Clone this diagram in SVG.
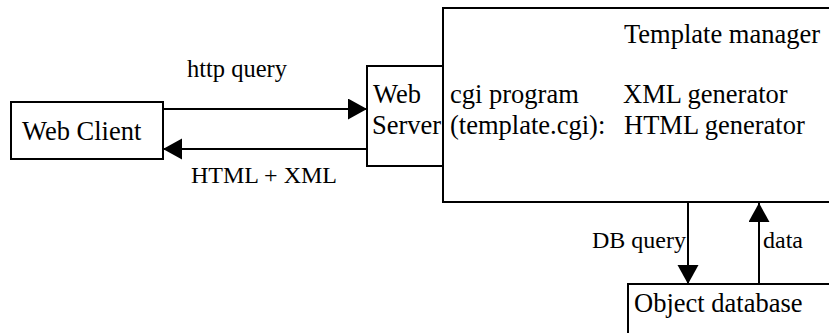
<svg xmlns="http://www.w3.org/2000/svg" width="829" height="333" viewBox="0 0 829 333">
  <style>
    .box { fill: #ffffff; stroke: #000000; stroke-width: 2; }
    .conn { stroke: #000000; stroke-width: 2; fill: none; }
    .t { font-family: "Liberation Serif", "Times New Roman", serif; font-size: 26.5px; fill: #000000; }
    .lbl { font-family: "Liberation Serif", "Times New Roman", serif; font-size: 24px; fill: #000000; }
  </style>
  <defs>
    <marker id="ah" markerUnits="userSpaceOnUse" markerWidth="20" markerHeight="22" refX="19" refY="10.5" orient="auto">
      <path d="M0,0 L19,10.5 L0,21 z" fill="#000000"/>
    </marker>
  </defs>
  <rect width="829" height="333" fill="#ffffff"/>

  <g id="template-manager">
    <rect class="box" x="443" y="8" width="400" height="194"/>
    <text class="t" x="624" y="43">Template manager</text>
    <text class="t" x="450" y="103">cgi program</text>
    <text class="t" x="450" y="134">(template.cgi):</text>
    <text class="t" x="623" y="103">XML generator</text>
    <text class="t" x="624" y="134">HTML generator</text>
  </g>

  <g id="web-server">
    <rect class="box" x="367" y="66" width="76" height="100"/>
    <text class="t" x="373" y="103">Web</text>
    <text class="t" x="372" y="134">Server</text>
  </g>

  <g id="web-client">
    <rect class="box" x="11" y="102" width="152" height="57"/>
    <text class="t" x="22" y="140">Web Client</text>
  </g>

  <g id="object-database">
    <rect class="box" x="628" y="284" width="220" height="70"/>
    <text class="t" x="634" y="312">Object database</text>
  </g>

  <g id="connectors">
    <line class="conn" x1="163" y1="109" x2="367" y2="109" marker-end="url(#ah)"/>
    <line class="conn" x1="367" y1="149" x2="163" y2="149" marker-end="url(#ah)"/>
    <line class="conn" x1="688" y1="202" x2="688" y2="284" marker-end="url(#ah)"/>
    <line class="conn" x1="759" y1="284" x2="759" y2="203" marker-end="url(#ah)"/>
    <text class="lbl" x="187" y="77" style="font-size:24.5px">http query</text>
    <text class="lbl" x="191" y="183">HTML + XML</text>
    <text class="lbl" x="592" y="248">DB query</text>
    <text class="lbl" x="763" y="248">data</text>
  </g>
</svg>
